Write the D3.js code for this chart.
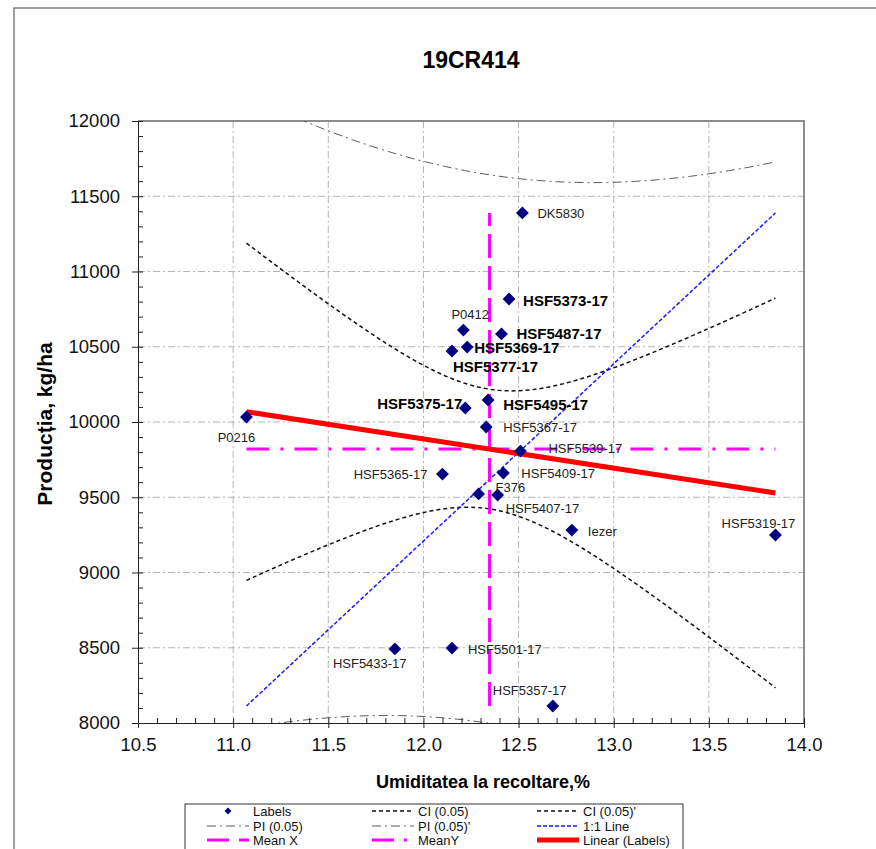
<!DOCTYPE html>
<html>
<head>
<meta charset="utf-8">
<script src="https://cdn.jsdelivr.net/npm/d3@7/dist/d3.min.js"></script>
<style>
  body { margin: 0; background: #fff; }
  svg { display: block; font-family: "Liberation Sans", Arial, Helvetica, sans-serif; }
</style>
</head>
<body>
<svg id="chart" width="876" height="849"></svg>
<script>
// Hybrids tested in trial 19CR414: harvest moisture (%) and yield (kg/ha)
const hybrids = ["P0216", "DK5830", "HSF5373-17", "P0412", "HSF5487-17", "HSF5369-17",
  "HSF5377-17", "HSF5495-17", "HSF5375-17", "HSF5367-17", "HSF5539-17", "HSF5365-17",
  "HSF5409-17", "F376", "HSF5407-17", "Iezer", "HSF5319-17", "HSF5433-17",
  "HSF5501-17", "HSF5357-17"];
const moisture = [11.07, 12.52, 12.45, 12.21, 12.41, 12.23, 12.15, 12.34, 12.22, 12.33,
  12.51, 12.10, 12.42, 12.29, 12.39, 12.78, 13.85, 11.85, 12.15, 12.68];
const yieldKg = [10033, 11389, 10817, 10611, 10585, 10498, 10472, 10146, 10093, 9967,
  9807, 9654, 9661, 9522, 9515, 9282, 9249, 8492, 8498, 8113];
const highlighted = ["HSF5373-17", "HSF5487-17", "HSF5369-17", "HSF5377-17", "HSF5375-17", "HSF5495-17"];

const xTicks = [10.5, 11.0, 11.5, 12.0, 12.5, 13.0, 13.5, 14.0];
const yTicks = [8000, 8500, 9000, 9500, 10000, 10500, 11000, 11500, 12000];
const tCrit = 2.1009; // Student t, alpha 0.05, df = 18

// Label placement around each marker: [dx, dy, anchor]
const labelPlacement = [
  [-10, 25, "middle"], [15, 5, "start"], [14, 7, "start"], [-12, -11, "start"],
  [15, 5, "start"], [7, 6, "start"], [1, 21, "start"], [15, 10, "start"],
  [-3, 1, "end"], [17, 5, "start"], [28, 2, "start"], [-15, 5, "end"],
  [18, 5, "start"], [17, -2, "start"], [8, 18, "start"], [16, 6, "start"],
  [-17, -7, "middle"], [-62, 19, "start"], [16, 6, "start"], [-60, -11, "start"]
];

const svg = d3.select("#chart");
const L = 138, R = 804, T = 121, B = 723;

const x = d3.scaleLinear().domain([10.5, 14.0]).range([L, R]);
const y = d3.scaleLinear().domain([8000, 12000]).range([B, T]);

// outer chart frame
svg.append("rect").attr("x", 14).attr("y", 8).attr("width", 900).attr("height", 900)
  .attr("fill", "none").attr("stroke", "#808080").attr("stroke-width", 1.5);

svg.append("text").attr("x", 471).attr("y", 68).attr("text-anchor", "middle")
  .attr("font-size", 23).attr("font-weight", "bold").text("19CR414");

svg.append("defs").append("clipPath").attr("id", "plotClip")
  .append("rect").attr("x", L).attr("y", T).attr("width", R - L).attr("height", B - T);

// gridlines
const grid = svg.append("g").attr("stroke", "#b4b4b4").attr("stroke-width", 1)
  .attr("stroke-dasharray", "7,3,2,3");
grid.selectAll("line.v").data(xTicks.slice(1, -1)).join("line")
  .attr("x1", d => x(d)).attr("x2", d => x(d)).attr("y1", T).attr("y2", B);
grid.selectAll("line.h").data(yTicks.slice(1, -1)).join("line")
  .attr("x1", L).attr("x2", R).attr("y1", d => y(d)).attr("y2", d => y(d));

// plot frame (top & right)
svg.append("path").attr("d", `M${L},${T}H${R}V${B}`).attr("fill", "none")
  .attr("stroke", "#8c8c8c").attr("stroke-width", 2);

// regression statistics
const n = moisture.length;
const xbar = d3.mean(moisture), ybar = d3.mean(yieldKg);
const Sxx = d3.sum(moisture, v => (v - xbar) ** 2);
const Sxy = d3.sum(moisture, (v, i) => (v - xbar) * (yieldKg[i] - ybar));
const slope = Sxy / Sxx, icpt = ybar - slope * xbar;
const sse = d3.sum(moisture, (v, i) => (yieldKg[i] - (icpt + slope * v)) ** 2);
const se = Math.sqrt(sse / (n - 2));
const xMin = d3.min(moisture), xMax = d3.max(moisture);
const yMin = d3.min(yieldKg), yMax = d3.max(yieldKg);
const xs = d3.range(0, 81).map(i => xMin + (xMax - xMin) * i / 80);
const fit = v => icpt + slope * v;
const ciHalf = v => tCrit * se * Math.sqrt(1 / n + (v - xbar) ** 2 / Sxx);
const piHalf = v => tCrit * se * Math.sqrt(1 + 1 / n + (v - xbar) ** 2 / Sxx);

const line = d3.line().x(d => x(d[0])).y(d => y(d[1]));
const layer = svg.append("g").attr("clip-path", "url(#plotClip)");

const styles = {
  pi: { stroke: "#5a5a5a", width: 1, dash: "9,4,2,4" },
  ci: { stroke: "#111", width: 1.5, dash: "4,3" },
  one: { stroke: "#1a1aff", width: 1.5, dash: "4,2" },
  mx: { stroke: "#ff00ff", width: 3, dash: "24,8" },
  my: { stroke: "#ff00ff", width: 3, dash: "23,11,3,11" },
  lin: { stroke: "#ff0000", width: 5, dash: null }
};
function draw(pts, s) {
  layer.append("path").attr("d", line(pts)).attr("fill", "none")
    .attr("stroke", s.stroke).attr("stroke-width", s.width)
    .attr("stroke-dasharray", s.dash);
}
draw(xs.map(v => [v, fit(v) + piHalf(v)]), styles.pi);
draw(xs.map(v => [v, fit(v) - piHalf(v)]), styles.pi);
draw(xs.map(v => [v, fit(v) + ciHalf(v)]), styles.ci);
draw(xs.map(v => [v, fit(v) - ciHalf(v)]), styles.ci);
draw([[xMin, yMin], [xMax, yMax]], styles.one);
draw([[xbar, yMin], [xbar, yMax]], styles.mx);
draw([[xMin, ybar], [xMax, ybar]], styles.my);
draw([[xMin, fit(xMin)], [xMax, fit(xMax)]], styles.lin);

// axes
const fmtX = d3.format(".1f");
const yMinor = d3.range(8000, 12001, 100);
const xMinor = d3.range(0, 36).map(i => 10.5 + i * 0.1);
svg.append("g").attr("transform", `translate(0,${B})`)
  .call(d3.axisTop(x).tickValues(xMinor).tickSize(5).tickFormat(""))
  .call(g => g.select(".domain").remove());
svg.append("g").attr("transform", `translate(${L},0)`)
  .call(d3.axisRight(y).tickValues(yMinor).tickSize(5).tickFormat(""))
  .call(g => g.select(".domain").remove());
svg.append("g").attr("transform", `translate(0,${B})`)
  .call(d3.axisBottom(x).tickValues(xTicks).tickSize(5).tickPadding(10).tickFormat(fmtX))
  .call(g => g.selectAll("text").attr("font-size", 18.5).attr("fill", "#111"));
svg.append("g").attr("transform", `translate(${L},0)`)
  .call(d3.axisLeft(y).tickValues(yTicks).tickSize(6).tickPadding(12).tickFormat(d3.format("d")))
  .call(g => g.selectAll("text").attr("font-size", 18.5).attr("fill", "#111"));
svg.selectAll(".domain").attr("stroke", "#222");
svg.selectAll(".tick line").attr("stroke", "#222");
svg.selectAll(".tick text").attr("font-family", "'Liberation Sans', Arial, sans-serif");

// axis titles
svg.append("text").attr("x", 483).attr("y", 788).attr("text-anchor", "middle")
  .attr("font-size", 18).attr("font-weight", "bold").text("Umiditatea la recoltare,%");
svg.append("text").attr("transform", "translate(52,424) rotate(-90)").attr("text-anchor", "middle")
  .attr("font-size", 21).attr("font-weight", "bold").text("Producția, kg/ha");

// markers
const diamond = d3.symbol().type(d3.symbolDiamond2).size(105);
svg.append("g").selectAll("path").data(hybrids).join("path")
  .attr("d", diamond)
  .attr("transform", (d, i) => `translate(${x(moisture[i])},${y(yieldKg[i])})`)
  .attr("fill", "#000080");

// labels
svg.append("g").selectAll("text").data(hybrids).join("text")
  .attr("x", (d, i) => x(moisture[i]) + labelPlacement[i][0])
  .attr("y", (d, i) => y(yieldKg[i]) + labelPlacement[i][1])
  .attr("text-anchor", (d, i) => labelPlacement[i][2])
  .attr("font-size", d => highlighted.includes(d) ? 15 : 13)
  .attr("font-weight", d => highlighted.includes(d) ? "bold" : "normal")
  .attr("fill", d => highlighted.includes(d) ? "#000" : "#222")
  .text(d => d);

// legend
const lg = svg.append("g");
lg.append("rect").attr("x", 185).attr("y", 804).attr("width", 498).attr("height", 80)
  .attr("fill", "#fff").attr("stroke", "#333").attr("stroke-width", 1);
const legendItems = [
  ["Labels", "marker"], ["CI (0.05)", "ci"], ["CI (0.05)'", "ci"],
  ["PI (0.05)", "pi"], ["PI (0.05)'", "pi"], ["1:1 Line", "one"],
  ["Mean X", "mx"], ["MeanY", "my"], ["Linear (Labels)", "lin"]
];
const colX = [207, 372, 537], rowY = [811, 826, 840];
legendItems.forEach((it, k) => {
  const cx = colX[k % 3], cy = rowY[Math.floor(k / 3)];
  if (it[1] === "marker") {
    lg.append("path").attr("d", d3.symbol().type(d3.symbolDiamond2).size(30))
      .attr("transform", `translate(${cx + 21},${cy})`).attr("fill", "#000080");
  } else {
    const s = styles[it[1]];
    lg.append("line").attr("x1", cx).attr("x2", cx + 42).attr("y1", cy).attr("y2", cy)
      .attr("stroke", s.stroke).attr("stroke-width", s.width)
      .attr("stroke-dasharray", it[1] === "mx" ? "22,10" : it[1] === "my" ? "22,10,3,10" : s.dash);
  }
  lg.append("text").attr("x", cx + 46).attr("y", cy + 4.5).attr("font-size", 13)
    .attr("fill", "#111").text(it[0]);
});
</script>
</body>
</html>
